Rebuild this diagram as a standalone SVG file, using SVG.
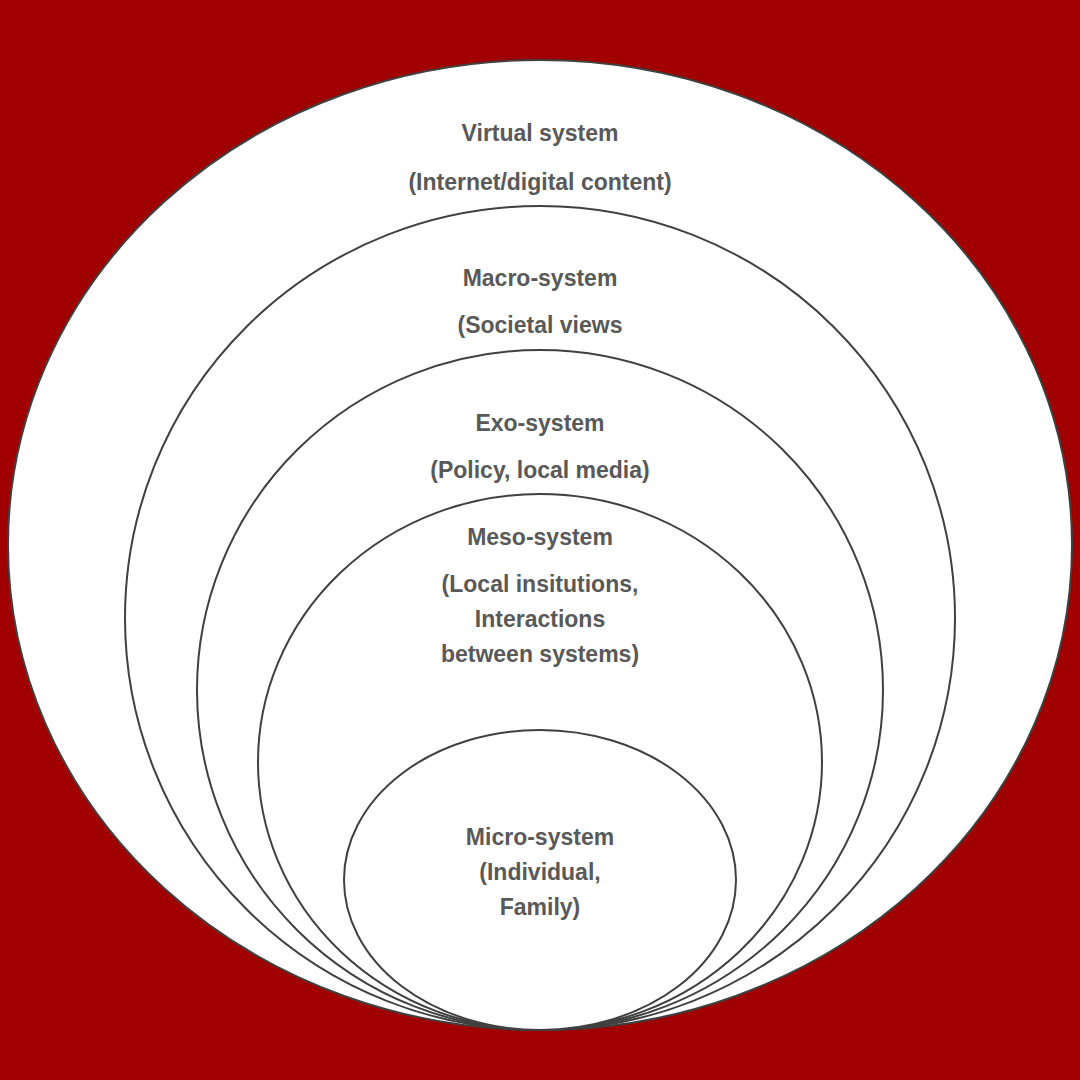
<svg xmlns="http://www.w3.org/2000/svg" width="1080" height="1080" viewBox="0 0 1080 1080">
<style>
.e{fill:#fff;stroke:#404040;stroke-width:2}
text{font-family:"Liberation Sans",Arial,sans-serif;font-weight:bold;font-size:23px;fill:#595959;text-anchor:middle}
</style>
<rect width="1080" height="1080" fill="#a00000"/>
<g id="virtual"><ellipse class="e" cx="540" cy="545" rx="532" ry="485"/>
<text x="540" y="141">Virtual system</text><text x="540" y="190">(Internet/digital content)</text></g>
<g id="macro"><ellipse class="e" cx="540" cy="618" rx="415" ry="412"/>
<text x="540" y="286">Macro-system</text><text x="540" y="333">(Societal views</text></g>
<g id="exo"><ellipse class="e" cx="540" cy="690" rx="343" ry="340"/>
<text x="540" y="431">Exo-system</text><text x="540" y="478">(Policy, local media)</text></g>
<g id="meso"><ellipse class="e" cx="540" cy="762" rx="282" ry="268"/>
<text x="540" y="545">Meso-system</text><text x="540" y="592">(Local insitutions,</text><text x="540" y="627">Interactions</text><text x="540" y="662">between systems)</text></g>
<g id="micro"><ellipse class="e" cx="540" cy="880" rx="196" ry="150"/>
<text x="540" y="845">Micro-system</text><text x="540" y="880">(Individual,</text><text x="540" y="915">Family)</text></g>
</svg>
